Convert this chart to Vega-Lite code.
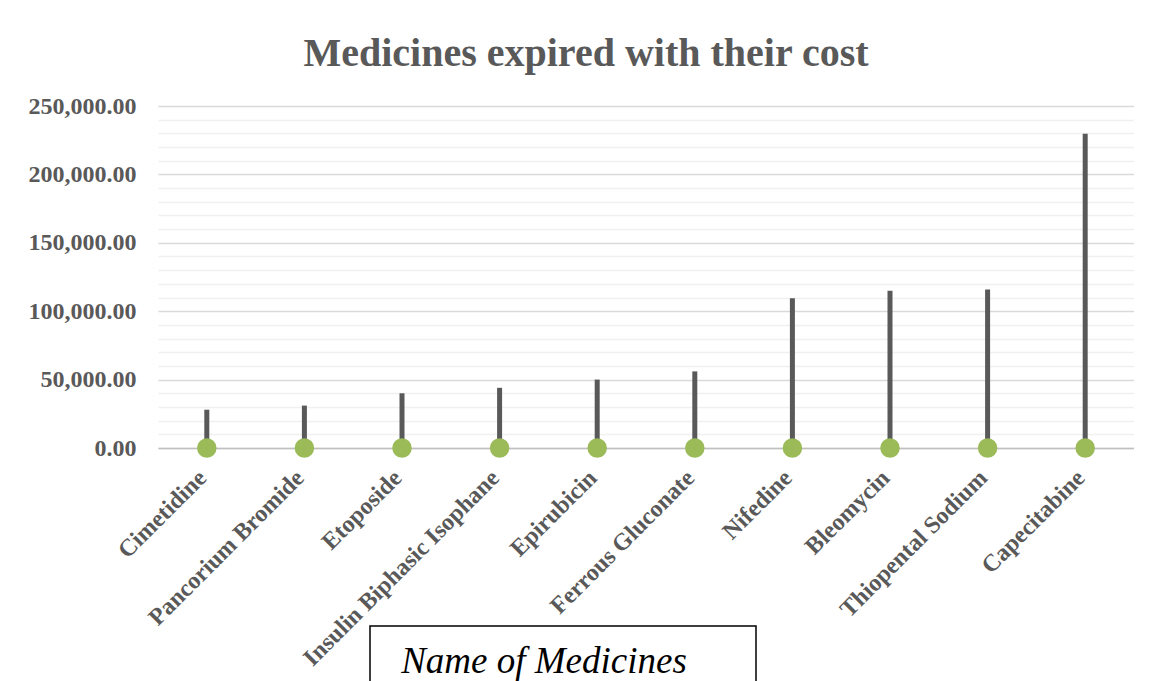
{
  "$schema": "https://vega.github.io/schema/vega-lite/v6.json",
  "autosize": {"type": "pad"},
  "padding": {"left": 28, "top": 34, "right": 0, "bottom": 0},
  "background": "white",
  "config": {"view": {"stroke": null}, "font": "Liberation Serif"},
  "bounds": "flush",
  "spacing": 178,
  "vconcat": [
    {
      "width": 976,
      "height": 342,
      "title": {"text": "Medicines expired with their cost", "fontSize": 40, "font": "Liberation Serif", "fontWeight": "bold", "color": "#595959", "anchor": "middle", "dx": -60, "offset": 20},
      "data": {"values": [
        {"medicine": "Cimetidine", "cost": 28000},
        {"medicine": "Pancorium Bromide", "cost": 31000},
        {"medicine": "Etoposide", "cost": 40000},
        {"medicine": "Insulin Biphasic Isophane", "cost": 44000},
        {"medicine": "Epirubicin", "cost": 50000},
        {"medicine": "Ferrous Gluconate", "cost": 56000},
        {"medicine": "Nifedine", "cost": 109500},
        {"medicine": "Bleomycin", "cost": 115000},
        {"medicine": "Thiopental Sodium", "cost": 115800},
        {"medicine": "Capecitabine", "cost": 229800}
      ]},
      "layer": [
        {
          "mark": {"type": "rule", "strokeWidth": 5, "color": "#595959"},
          "encoding": {
            "x": {"field": "medicine", "type": "nominal", "sort": null, "title": null,
              "axis": {"labelAngle": -45, "labelFont": "Liberation Serif", "labelFontWeight": "bold", "labelFontSize": 24, "labelColor": "#595959", "labelPadding": 26, "labelOffset": -4, "labelLimit": 0, "labelOverlap": false, "ticks": false, "domainColor": "#bfbfbf", "domainWidth": 1.5, "grid": false, "labelAlign": "right", "labelBaseline": "middle"}},
            "y": {"field": "cost", "type": "quantitative", "scale": {"domain": [0, 250000], "nice": false}, "title": null,
              "axis": {"orient": "right", "values": [10000, 20000, 30000, 40000, 60000, 70000, 80000, 90000, 110000, 120000, 130000, 140000, 160000, 170000, 180000, 190000, 210000, 220000, 230000, 240000], "labels": false, "ticks": false, "domain": false, "grid": true, "gridColor": "#f0f0f0", "gridWidth": 1.5}},
            "y2": {"datum": 0}
          }
        },
        {
          "mark": {"type": "point", "filled": true, "size": 380, "color": "#9bbb59", "opacity": 1},
          "encoding": {
            "x": {"field": "medicine", "type": "nominal", "sort": null},
            "y": {"datum": 0, "type": "quantitative", "title": null,
              "axis": {"orient": "left", "values": [0, 50000, 100000, 150000, 200000, 250000], "format": ",.2f", "labelFont": "Liberation Serif", "labelFontWeight": "bold", "labelFontSize": 24, "labelColor": "#595959", "labelPadding": 22, "ticks": false, "domain": false, "grid": true, "gridColor": "#d9d9d9", "gridWidth": 1.5}}
          }
        }
      ],
      "resolve": {"scale": {"y": "shared"}, "axis": {"y": "independent"}}
    },
    {
      "bounds": "flush",
      "spacing": 211,
      "hconcat": [
        {"width": 1, "height": 90, "data": {"values": []}, "mark": "point", "encoding": {}},
        {
          "width": 386,
          "height": 90,
          "view": {"stroke": "black", "strokeWidth": 1.5},
          "data": {"values": [{"label": "Name of Medicines"}]},
          "mark": {"type": "text", "font": "Liberation Serif", "fontStyle": "italic", "fontSize": 37, "color": "black", "baseline": "alphabetic", "dx": -19, "dy": 2},
          "encoding": {"text": {"field": "label"}}
        }
      ]
    }
  ]
}
